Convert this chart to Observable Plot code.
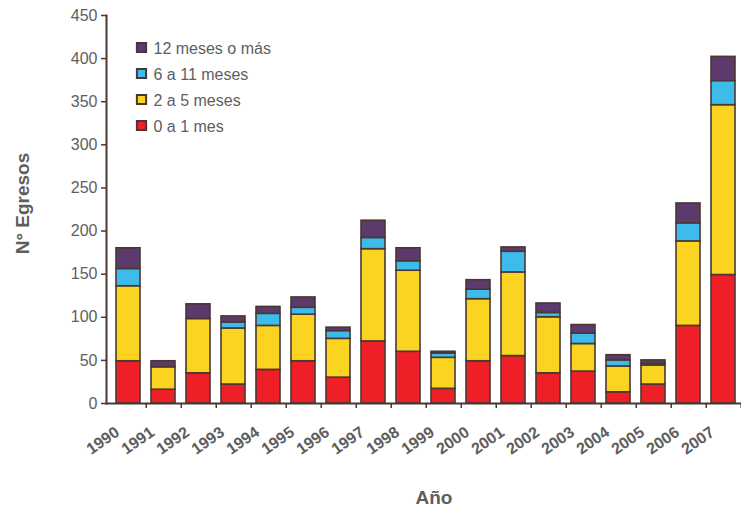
<!DOCTYPE html>
<html>
<head>
<meta charset="utf-8">
<script src="https://cdn.jsdelivr.net/npm/d3@7"></script>
<script src="https://cdn.jsdelivr.net/npm/@observablehq/plot@0.6"></script>
<style>
  body { margin: 0; background: #fff; }
  #chart { width: 741px; height: 508px; overflow: hidden; }
  #chart svg { display: block; }
</style>
</head>
<body>
<div id="chart"></div>
<script>
// Egresos por año, según tiempo de permanencia
const years = [1990, 1991, 1992, 1993, 1994, 1995, 1996, 1997, 1998, 1999,
               2000, 2001, 2002, 2003, 2004, 2005, 2006, 2007];
const groups = ["0 a 1 mes", "2 a 5 meses", "6 a 11 meses", "12 meses o más"];
const mes0a1      = [49, 16, 35, 22, 39, 49, 30,  72, 60, 17, 49, 55, 35, 37, 13, 22, 90, 149];
const meses2a5    = [87, 26, 63, 65, 51, 54, 45, 107, 94, 36, 72, 97, 65, 32, 30, 22, 98, 197];
const meses6a11   = [20,  0,  0,  7, 14,  8,  9,  13, 11,  5, 11, 24,  5, 12,  7,  2, 21,  28];
const meses12mas  = [24,  7, 17,  7,  8, 12,  4,  20, 15,  2, 11,  5, 11, 10,  6,  4, 23,  28];
const yTicks = [0, 50, 100, 150, 200, 250, 300, 350, 400, 450];
const colors = ["#ee1f26", "#fad420", "#3dbbea", "#5c3a6b"];

const series = [mes0a1, meses2a5, meses6a11, meses12mas];
const rows = years.flatMap((year, i) =>
  groups.map((group, k) => ({year, group, value: series[k][i]}))
);

const ink = "#4a3733";
const textGrey = "#5e5e5e";
const left = 106, right = 745;
const step = (right - left) / years.length;

// legend, top entry is the longest stay
const legendOrder = groups.slice().reverse();
const legendMarks = legendOrder.flatMap((g, i) => [
  Plot.dot([g], {
    frameAnchor: "top-left", dx: 35, dy: 32 + 26 * i,
    symbol: "square", r: 5.2,
    fill: colors[groups.indexOf(g)], stroke: ink, strokeWidth: 2
  }),
  Plot.text([g], {
    frameAnchor: "top-left", dx: 47, dy: 33 + 26 * i,
    text: d => d, textAnchor: "start", lineAnchor: "middle", fontSize: 16, fill: textGrey
  })
]);

const chart = Plot.plot({
  width: 741,
  height: 508,
  marginTop: 15,
  marginBottom: 105,
  marginLeft: left,
  marginRight: 0,
  style: {fontFamily: "'Liberation Sans', Arial, sans-serif", background: "#fff"},
  x: {type: "band", domain: years, range: [left, right], paddingInner: 0.32, paddingOuter: 0.16},
  y: {domain: [0, 450]},
  color: {domain: groups, range: colors},
  marks: [
    Plot.barY(rows, {
      x: "year", y: "value", fill: "group", order: groups,
      stroke: ink, strokeWidth: 1.6
    }),
    // axis lines
    Plot.frame({anchor: "left", stroke: ink, strokeWidth: 2}),
    Plot.frame({anchor: "bottom", stroke: ink, strokeWidth: 2}),
    // x ticks sit between the bars
    Plot.ruleX(years, {
      x: d => d, dx: step / 2, y1: 0, y2: 0, insetBottom: -5,
      stroke: ink, strokeWidth: 1.5
    }),
    Plot.axisY({
      ticks: yTicks, tickSize: 5, tickPadding: 4, stroke: ink, strokeWidth: 1.5,
      fill: textGrey, fontSize: 16, label: null
    }),
    Plot.axisX({
      tickSize: 0, tickRotate: -35, tickPadding: 27, dx: -11, tickFormat: d => String(d),
      fill: textGrey, fontSize: 16, fontWeight: "bold", label: null
    }),
    // axis titles
    Plot.text(["Año"], {
      frameAnchor: "bottom", dx: 10, dy: 94, text: d => d, lineAnchor: "middle",
      fontSize: 19, fontWeight: "bold", fill: textGrey, style: "letter-spacing:2px"
    }),
    Plot.text(["N° Egresos"], {
      frameAnchor: "left", dx: -84, dy: -6, rotate: -90, text: d => d,
      textAnchor: "middle", lineAnchor: "middle",
      fontSize: 19, fontWeight: "bold", fill: textGrey, style: "letter-spacing:2px"
    }),
    ...legendMarks
  ]
});

document.getElementById("chart").append(chart);
</script>
</body>
</html>
